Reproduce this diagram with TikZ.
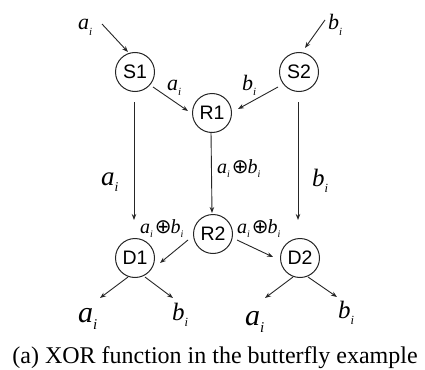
\documentclass[tikz,border=0pt]{standalone}
\usepackage{fontspec}
\usepackage{graphicx}
\setmainfont{Liberation Serif}
\newfontfamily\nodefont{Liberation Sans}
\newfontfamily\symfnt{DejaVu Sans}
\usetikzlibrary{arrows.meta,calc}
\newcommand\vsub[2]{\textit{#1}\raisebox{-0.24em}{\scalebox{0.5}{\textit{#2}}}}
\newcommand\xorlab{\vsub{a}{i}\kern0.1em{\symfnt\scalebox{1.0}{⊕}}\kern-0.05em\vsub{b}{i}}
\tikzset{
  vert/.style={circle,draw=black!85,line width=1pt,minimum size=39pt,inner sep=0pt,
    font=\nodefont\fontsize{19.5}{19.5}\selectfont},
  lab/.style={anchor=base west,inner sep=0pt,font=\fontsize{#1}{#1}\selectfont},
  arr/.style={draw=black!85,line width=0.9pt,-{Stealth[length=6pt,width=4.5pt]}},
}
\begin{document}
\begin{tikzpicture}[x=1pt,y=-1pt]
\useasboundingbox (0,0) rectangle (425,369);
% vertices
\node[vert] (S1) at (135,72) {S1};
\node[vert] (S2) at (299,72) {S2};
\node[vert] (R1) at (212,113) {R1};
\node[vert] (R2) at (213,234) {R2};
\node[vert] (D1) at (135,258) {D1};
\node[vert] (D2) at (300,258) {D2};
% labels
\node[lab=22] (la0) at (78,30) {\vsub{a}{i}};
\node[lab=22] (lb0) at (328,30) {\vsub{b}{i}};
\node[lab=22] (la1) at (167,90) {\vsub{a}{i}};
\node[lab=22] (lb1) at (242,90) {\vsub{b}{i}};
\node[lab=27] (la2) at (101,185) {\vsub{a}{i}};
\node[lab=25] (lb2) at (312,186) {\vsub{b}{i}};
\node[lab=20] (lx1) at (217,173) {\xorlab};
\node[lab=20] (lx2) at (140,233) {\xorlab};
\node[lab=20] (lx3) at (237,233) {\xorlab};
\node[lab=30] (oa1) at (78,322) {\vsub{a}{i}};
\node[lab=25] (ob1) at (172,320) {\vsub{b}{i}};
\node[lab=30] (oa2) at (245,325) {\vsub{a}{i}};
\node[lab=25] (ob2) at (338,318) {\vsub{b}{i}};
% connectors
\draw[arr] ($(la0.base west)+(24,-6)$) -- ($(S1)+(-7,-20)$);
\draw[arr] ($(lb0.base west)+(-3,-10)$) -- ($(S2)+(6,-24)$);
\draw[arr] ($(S1)+(18,15)$) -- ($(R1)+(-24,-2)$);
\draw[arr] ($(S2)+(-21,15)$) -- ($(R1)+(26,-4)$);
\draw[arr] ($(S1)+(-1,30)$) -- ($(D1)+(-1,-38)$);
\draw[arr] ($(S2)+(-1,30)$) -- ($(D2)+(-2,-38)$);
\draw[arr] ($(R1)+(-1,19)$) -- ($(R2)+(-1,-21)$);
\draw[arr] ($(R2)+(-25,6)$) -- ($(D1)+(25,5)$);
\draw[arr] ($(R2)+(24,6)$) -- ($(D2)+(-27,-1)$);
\draw[arr] ($(D1)+(-7,19)$) -- ($(oa1.base west)+(22,-24)$);
\draw[arr] ($(D1)+(10,19)$) -- ($(ob1.base west)+(1,-22)$);
\draw[arr] ($(D2)+(-7,19)$) -- ($(oa2.base west)+(20,-27)$);
\draw[arr] ($(D2)+(8,19)$) -- ($(ob2.base west)+(-1,-21)$);
% caption
\node[anchor=base,inner sep=0pt,font=\fontsize{24}{24}\selectfont] (cap) at (215,363)
  {(a) XOR function in the butterfly example};
\end{tikzpicture}
\end{document}
